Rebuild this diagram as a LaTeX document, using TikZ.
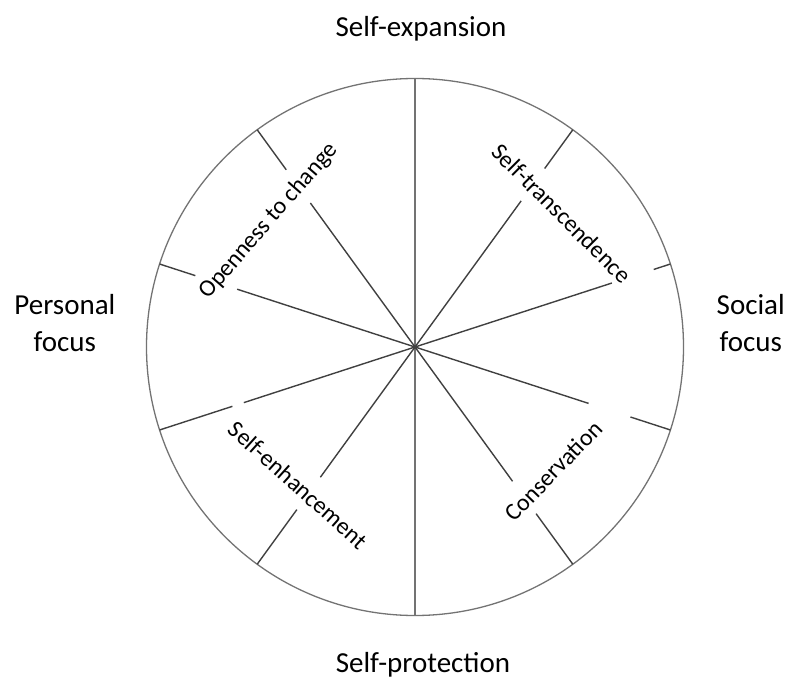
\documentclass[tikz,border=0pt]{standalone}
\usepackage{fontspec}
\setmainfont{Carlito}
\usepackage{tikz}
\usetikzlibrary{positioning}

\newcommand\polefont{\fontsize{29}{36.7}\selectfont}
\newcommand\ringfont{\fontsize{24}{29}\selectfont}

\begin{document}
\begin{tikzpicture}[x=1pt,y=1pt,
rim/.style={draw=black!55,line width=1.3pt,circle,inner sep=0pt,outer sep=0pt,minimum size=537pt},
axis/.style={draw=black!55,line width=1.3pt},
spoke/.style={draw=black!75,line width=1.4pt},
pole/.style={font=\polefont,inner sep=0pt,align=center},
value/.style={font=\ringfont,inner sep=0pt}]
\useasboundingbox (-415,-330) rectangle (371,347);
\node (rim) [rim] at (0,0) {};
\node (hub) [circle,fill=black,inner sep=0pt,minimum size=4.5pt] at (0,0) {};
% spokes, broken where the labels sit
\draw[axis] (hub.center) -- (rim.90);
\draw[axis] (hub.center) -- (rim.270);
\draw[spoke] (hub.center) -- (126:178) (126:219) -- (rim.126);
\draw[spoke] (hub.center) -- (162:187) (162:231) -- (rim.162);
\draw[spoke] (hub.center) -- (198:180) (198:192) -- (rim.198);
\draw[spoke] (hub.center) -- (234:161) (234:201) -- (rim.234);
\draw[spoke] (hub.center) -- (306:166) (306:206) -- (rim.306);
\draw[spoke] (hub.center) -- (342:182.5) (342:226.5) -- (rim.342);
\draw[spoke] (hub.center) -- (18:207) (18:251) -- (rim.18);
\draw[spoke] (hub.center) -- (54:180.6) (54:220.6) -- (rim.54);
% sector labels
\node (open) [value,rotate=49] at (-146,126) {Openness to change};
\node (trans) [value,rotate=-45] at (146.7,133.7) {Self-transcendence};
\node (cons) [value,rotate=46] at (138.3,-123.8) {Conservation};
\node (enh) [value,rotate=-42] at (-116.7,-138) {Self-enhancement};
% outer labels
\node (expansion) [pole,above=37pt of rim,xshift=6pt] {Self-expansion};
\node (protection) [pole,below=37pt of rim,xshift=8pt] {Self-protection};
\node (personal) [pole,left=31pt of rim,yshift=24pt] {Personal\\focus};
\node (social) [pole,right=33pt of rim,yshift=24pt] {Social\\focus};
\end{tikzpicture}
\end{document}
